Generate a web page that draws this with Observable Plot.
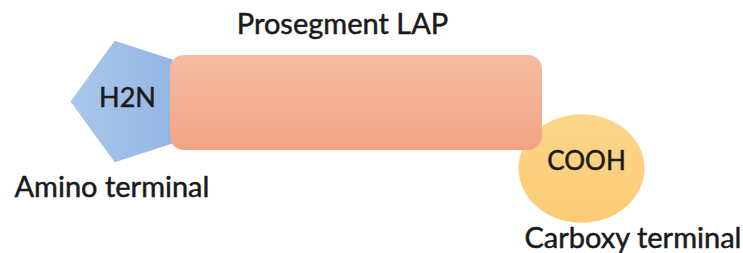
<!DOCTYPE html>
<html>
<head>
<meta charset="utf-8">
<script src="https://cdn.jsdelivr.net/npm/d3@7"></script>
<script src="https://cdn.jsdelivr.net/npm/@observablehq/plot@0.6"></script>
<style>
  html, body { margin: 0; padding: 0; background: #fff; }
  #chart svg { display: block; }
</style>
</head>
<body>
<div id="chart"></div>
<script>
// Domain parts of the LAP precursor
const partNames = ["Amino terminal (H2N)", "Prosegment LAP", "Carboxy terminal (COOH)"];
const shapeLabels = ["H2N", "COOH"];
const shapeCx = [134, 581];
const shapeCy = [101, 168];
const shapeR = [64, 63];
const shapeKind = ["pentagon", "ellipse"];

const barX1 = [170];
const barX2 = [542];
const barY1 = [55];
const barY2 = [150];

const textLabels = ["Prosegment LAP", "H2N", "Amino terminal", "COOH", "Carboxy terminal"];
const textX = [342, 127, 14, 586, 524];
const textY = [24, 98, 187, 161, 238];
const textAnchor = ["middle", "middle", "start", "middle", "start"];
const textSize = [29, 27, 29, 26, 29];

const pentagonSymbol = {
  draw(ctx, size) {
    const r = Math.sqrt(size / Math.PI);
    for (let k = 0; k < 5; k++) {
      const a = Math.PI + k * 2 * Math.PI / 5;
      const px = r * Math.cos(a), py = r * Math.sin(a);
      k === 0 ? ctx.moveTo(px, py) : ctx.lineTo(px, py);
    }
    ctx.closePath();
  }
};
const ellipseSymbol = {
  draw(ctx, size) {
    const rx = Math.sqrt(size / Math.PI), ry = rx * 0.86, k = 0.5523;
    ctx.moveTo(rx, 0);
    ctx.bezierCurveTo(rx, ry * k, rx * k, ry, 0, ry);
    ctx.bezierCurveTo(-rx * k, ry, -rx, ry * k, -rx, 0);
    ctx.bezierCurveTo(-rx, -ry * k, -rx * k, -ry, 0, -ry);
    ctx.bezierCurveTo(rx * k, -ry, rx, -ry * k, rx, 0);
    ctx.closePath();
  }
};

function defsMark() {
  const ns = "http://www.w3.org/2000/svg";
  const defs = document.createElementNS(ns, "defs");
  const grads = [
    ["gRect", "0", "0", "0", "1", [["0%", "#f6bca1"], ["100%", "#f2a385"]]],
    ["gPent", "0", "0", "1", "0", [["0%", "#aac7eb"], ["100%", "#8fb4e2"]]],
    ["gEll", "0", "0", "0", "1", [["0%", "#fdd68a"], ["100%", "#fbcb75"]]]
  ];
  for (const [id, x1, y1, x2, y2, stops] of grads) {
    const g = document.createElementNS(ns, "linearGradient");
    g.setAttribute("id", id);
    g.setAttribute("x1", x1); g.setAttribute("y1", y1);
    g.setAttribute("x2", x2); g.setAttribute("y2", y2);
    for (const [off, col] of stops) {
      const s = document.createElementNS(ns, "stop");
      s.setAttribute("offset", off);
      s.setAttribute("stop-color", col);
      g.appendChild(s);
    }
    defs.appendChild(g);
  }
  return defs;
}

const shapes = shapeLabels.map((l, i) => ({label: l, x: shapeCx[i], y: shapeCy[i], r: shapeR[i], kind: shapeKind[i]}));
const bar = barX1.map((v, i) => ({x1: v, x2: barX2[i], y1: barY1[i], y2: barY2[i]}));
const texts = textLabels.map((t, i) => ({t, x: textX[i], y: textY[i], anchor: textAnchor[i], size: textSize[i]}));

const chart = Plot.plot({
  width: 743,
  height: 253,
  margin: 0,
  style: {background: "#fff", fontFamily: "Lato, 'Open Sans', sans-serif"},
  x: {domain: [0, 743], range: [0, 743], axis: null},
  y: {domain: [0, 253], range: [0, 253], axis: null},
  r: {type: "identity"},
  marks: [
    defsMark,
    Plot.dot(shapes.filter(d => d.kind === "pentagon"), {x: "x", y: "y", r: "r", symbol: pentagonSymbol, fill: "url(#gPent)", stroke: "none"}),
    Plot.dot(shapes.filter(d => d.kind === "ellipse"), {x: "x", y: "y", r: "r", symbol: ellipseSymbol, fill: "url(#gEll)", stroke: "none"}),
    Plot.rect(bar, {x1: "x1", x2: "x2", y1: "y1", y2: "y2", rx: 14, fill: "url(#gRect)"}),
    ...texts.map(d => Plot.text([d], {x: "x", y: "y", text: "t", textAnchor: d.anchor, fontSize: d.size, fill: "#1a1a1a", stroke: "#1a1a1a", strokeWidth: 0.5}))
  ]
});
document.getElementById("chart").appendChild(chart);
</script>
</body>
</html>
